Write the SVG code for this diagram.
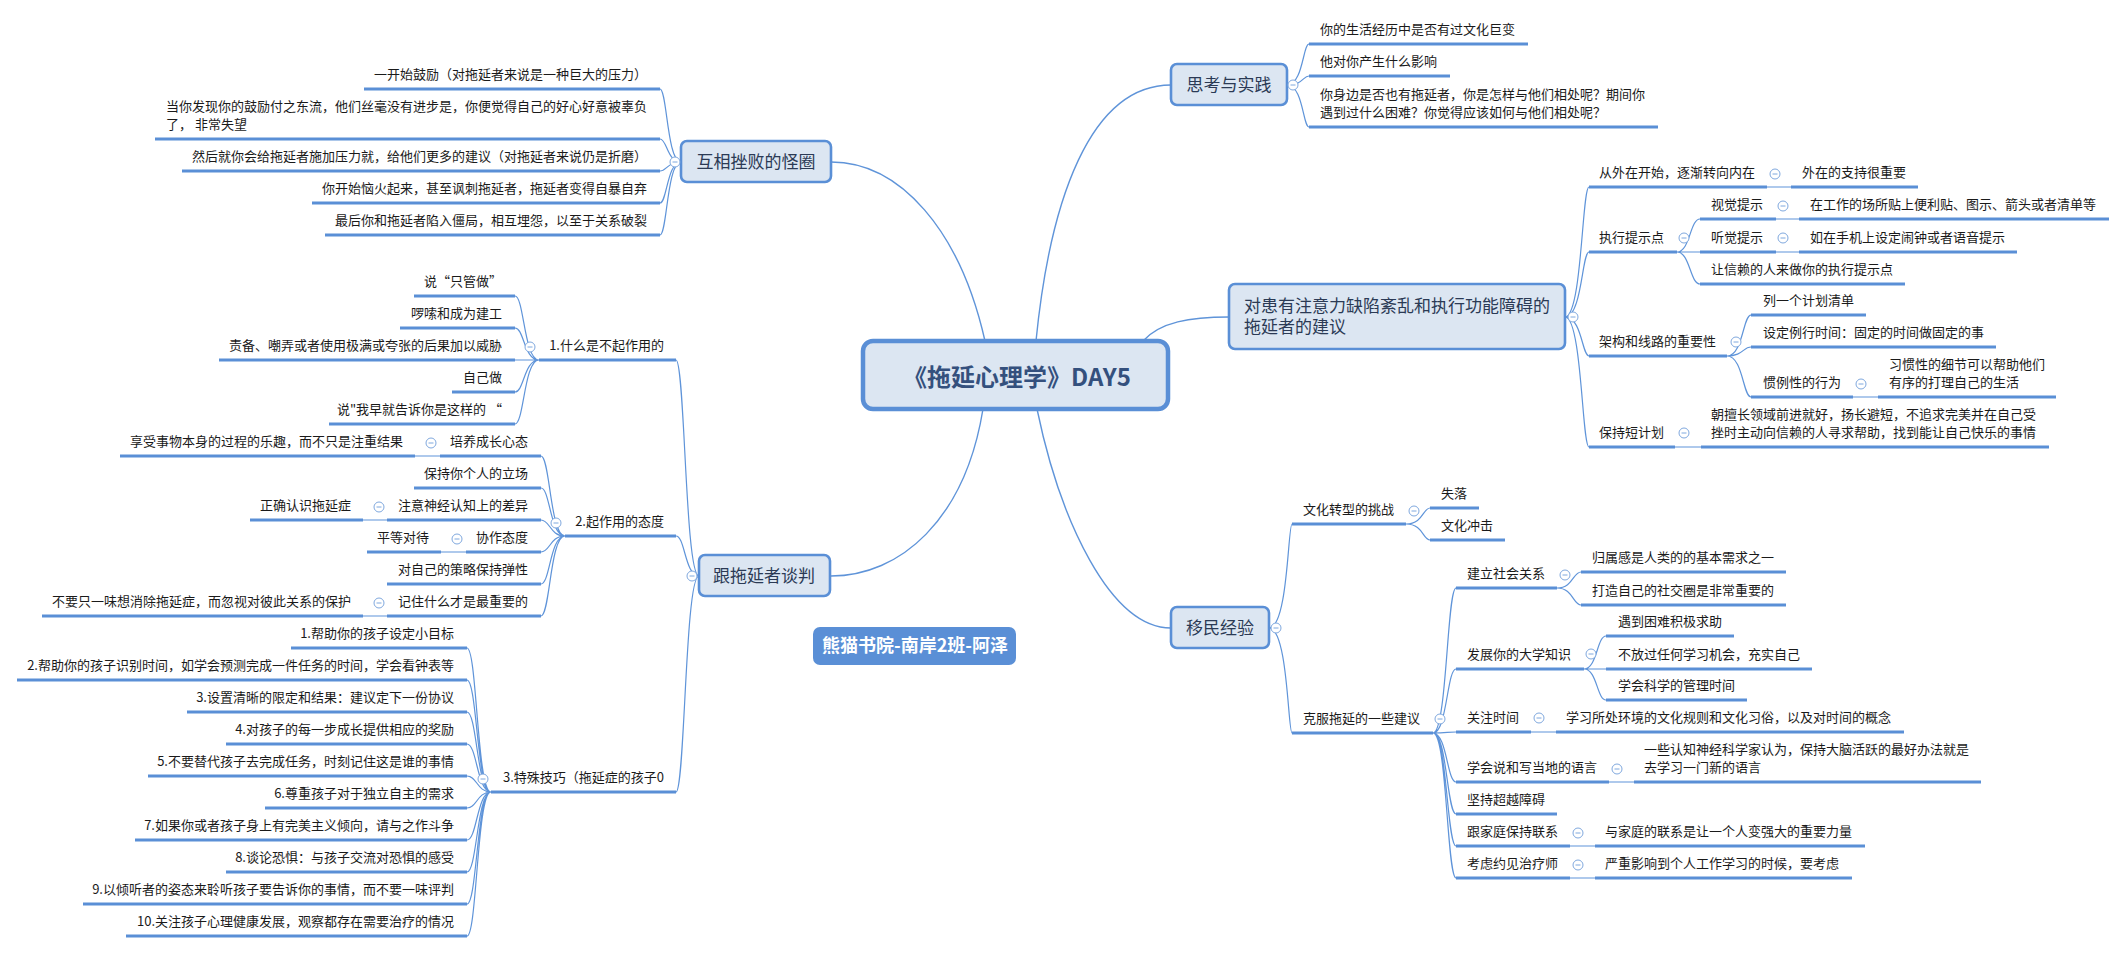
<svg xmlns="http://www.w3.org/2000/svg" xmlns:xlink="http://www.w3.org/1999/xlink" width="2126" height="953" viewBox="0 0 2126 953">
<style>
text{font-family:"Noto Sans CJK SC","Microsoft YaHei",sans-serif;fill:#1a1a1a;font-size:13px}
.l{text-anchor:end}
.c{stroke:#5f94d9;stroke-width:1.2;fill:none}
.mc{stroke:#5f94d9;stroke-width:1.4;fill:none}
.u{stroke:#5a8fd6;stroke-width:3;fill:none}
.box{fill:#dce6f2;stroke:#5a8fd6;stroke-width:2.6}
.mt{font-size:17px;fill:#2b3a55}
.ct{font-size:24px;font-weight:bold;fill:#34507d;text-anchor:middle}
.mid{text-anchor:middle}
</style>
<defs>
<g id="m"><circle r="5" fill="#fff" stroke="#7fa8de" stroke-width="1"/><line x1="-2.5" y1="0" x2="2.5" y2="0" stroke="#7fa8de" stroke-width="1"/></g>
</defs>
<rect width="2126" height="953" fill="#fff"/>
<g id="connectors">
<path class="mc" d="M831,162 C900,162 960,230 985,341"/>
<path class="mc" d="M1171,85 C1090,85 1050,200 1036,341"/>
<path class="mc" d="M1143,341 C1160,322 1190,317 1229,317"/>
<path class="mc" d="M983,409 C965,520 900,576 831,576"/>
<path class="mc" d="M1037,409 C1060,520 1110,628 1171,628"/>
<path class="c" d="M681,162 C667,162 667,89 660,89 M681,162 C667,162 667,139 660,139 M681,162 C667,162 667,171 660,171 M681,162 C667,162 667,203 660,203 M681,162 C667,162 667,235 660,235"/>
<path class="c" d="M699,576 C685,576 685,360 676,360 M699,576 C685,576 685,536 676,536 M699,576 C685,576 685,792 676,792"/>
<path class="c" d="M539,360 C524,360 524,296 515,296 M539,360 C524,360 524,328 515,328 M539,360 L515,360 M539,360 C524,360 524,392 515,392 M539,360 C524,360 524,424 515,424"/>
<path class="c" d="M565,536 C550,536 550,456 541,456 M565,536 C550,536 550,488 541,488 M565,536 C550,536 550,520 541,520 M565,536 C550,536 550,552 541,552 M565,536 C550,536 550,584 541,584 M565,536 C550,536 550,616 541,616"/>
<path class="c" d="M491,792 C477,792 477,648 467,648 M491,792 C477,792 477,680 467,680 M491,792 C477,792 477,712 467,712 M491,792 C477,792 477,744 467,744 M491,792 C477,792 477,776 467,776 M491,792 C477,792 477,808 467,808 M491,792 C477,792 477,840 467,840 M491,792 C477,792 477,872 467,872 M491,792 C477,792 477,904 467,904 M491,792 C477,792 477,936 467,936"/>
<path class="c" d="M440,456 L415,456 M387,520 L363,520 M466,552 L441,552 M387,616 L363,616"/>
<path class="c" d="M1287,85 C1303,85 1303,44 1309,44 M1287,85 C1303,85 1303,76 1309,76 M1287,85 C1303,85 1303,127 1309,127"/>
<path class="c" d="M1565,317 C1582,317 1582,187 1589,187 M1565,317 C1582,317 1582,252 1589,252 M1565,317 C1582,317 1582,356 1589,356 M1565,317 C1582,317 1582,447 1589,447"/>
<path class="c" d="M1677,252 C1690,252 1690,219 1700,219 M1677,252 L1700,252 M1677,252 C1690,252 1690,284 1700,284"/>
<path class="c" d="M1727,356 C1743,356 1743,315 1751,315 M1727,356 C1743,356 1743,347 1751,347 M1727,356 C1743,356 1743,397 1751,397"/>
<path class="c" d="M1767,187 L1791,187 M1776,219 L1799,219 M1776,252 L1799,252 M1853,397 L1878,397 M1675,447 L1701,447"/>
<path class="c" d="M1269,628 C1288,628 1288,524 1292,524 M1269,628 C1288,628 1288,733 1292,733"/>
<path class="c" d="M1406,524 C1423,524 1423,508 1430,508 M1406,524 C1423,524 1423,540 1430,540"/>
<path class="c" d="M1433,733 C1447,733 1447,588 1456,588 M1433,733 C1447,733 1447,669 1456,669 M1433,733 C1447,733 1447,732 1456,732 M1433,733 C1447,733 1447,782 1456,782 M1433,733 C1447,733 1447,814 1456,814 M1433,733 C1447,733 1447,846 1456,846 M1433,733 C1447,733 1447,878 1456,878"/>
<path class="c" d="M1557,588 C1573,588 1573,572 1581,572 M1557,588 C1573,588 1573,605 1581,605"/>
<path class="c" d="M1584,669 C1597,669 1597,636 1606,636 M1584,669 L1606,669 M1584,669 C1597,669 1597,700 1606,700"/>
<path class="c" d="M1531,732 L1556,732 M1609,782 L1634,782 M1570,846 L1595,846 M1570,878 L1595,878"/>
</g>

<g id="central">
<rect x="863" y="341" width="305" height="68" rx="10" fill="#dce6f2" stroke="#5a8fd6" stroke-width="4.5"/>
<text class="ct" x="1017" y="386">《拖延心理学》DAY5</text>
</g>

<g id="n-huxiang">
<rect class="box" x="681" y="141" width="150" height="41" rx="6"/>
<text class="mt mid" x="756" y="168">互相挫败的怪圈</text>
<use xlink:href="#m" x="675" y="162"/>
</g>
<g id="n-huxiang-items">
<text class="l" x="647" y="79">一开始鼓励（对拖延者来说是一种巨大的压力）</text>
<line class="u" x1="364" y1="89" x2="660" y2="89"/>
<text x="166" y="111">当你发现你的鼓励付之东流，他们丝毫没有进步是，你便觉得自己的好心好意被辜负</text>
<text x="166" y="129">了， 非常失望</text>
<line class="u" x1="155" y1="139" x2="660" y2="139"/>
<text class="l" x="647" y="161">然后就你会给拖延者施加压力就，给他们更多的建议（对拖延者来说仍是折磨）</text>
<line class="u" x1="182" y1="171" x2="660" y2="171"/>
<text class="l" x="647" y="193">你开始恼火起来，甚至讽刺拖延者，拖延者变得自暴自弃</text>
<line class="u" x1="312" y1="203" x2="660" y2="203"/>
<text class="l" x="647" y="225">最后你和拖延者陷入僵局，相互埋怨，以至于关系破裂</text>
<line class="u" x1="325" y1="235" x2="660" y2="235"/>
</g>

<g id="n-tanpan">
<rect class="box" x="699" y="555" width="131" height="41" rx="6"/>
<text class="mt mid" x="764" y="582">跟拖延者谈判</text>
<use xlink:href="#m" x="692" y="576"/>
</g>
<g id="n-tanpan-1">
<text class="l" x="664" y="350">1.什么是不起作用的</text>
<line class="u" x1="539" y1="360" x2="676" y2="360"/>
<use xlink:href="#m" x="530" y="347"/>
<text class="l" x="502" y="286">说“只管做”</text>
<line class="u" x1="414" y1="296" x2="515" y2="296"/>
<text class="l" x="502" y="318">啰嗦和成为建工</text>
<line class="u" x1="400" y1="328" x2="515" y2="328"/>
<text class="l" x="502" y="350">责备、嘲弄或者使用极满或夸张的后果加以威胁</text>
<line class="u" x1="219" y1="360" x2="515" y2="360"/>
<text class="l" x="502" y="382">自己做</text>
<line class="u" x1="452" y1="392" x2="515" y2="392"/>
<text class="l" x="502" y="414">说"我早就告诉你是这样的 “</text>
<line class="u" x1="329" y1="424" x2="515" y2="424"/>
</g>
<g id="n-tanpan-2">
<text class="l" x="664" y="526">2.起作用的态度</text>
<line class="u" x1="565" y1="536" x2="676" y2="536"/>
<use xlink:href="#m" x="556" y="523"/>
<text class="l" x="528" y="446">培养成长心态</text>
<line class="u" x1="440" y1="456" x2="541" y2="456"/>
<use xlink:href="#m" x="431" y="443"/>
<text class="l" x="403" y="446">享受事物本身的过程的乐趣，而不只是注重结果</text>
<line class="u" x1="120" y1="456" x2="415" y2="456"/>
<text class="l" x="528" y="478">保持你个人的立场</text>
<line class="u" x1="414" y1="488" x2="541" y2="488"/>
<text class="l" x="528" y="510">注意神经认知上的差异</text>
<line class="u" x1="387" y1="520" x2="541" y2="520"/>
<use xlink:href="#m" x="379" y="507"/>
<text class="l" x="351" y="510">正确认识拖延症</text>
<line class="u" x1="250" y1="520" x2="363" y2="520"/>
<text class="l" x="528" y="542">协作态度</text>
<line class="u" x1="466" y1="552" x2="541" y2="552"/>
<use xlink:href="#m" x="457" y="539"/>
<text class="l" x="429" y="542">平等对待</text>
<line class="u" x1="367" y1="552" x2="441" y2="552"/>
<text class="l" x="528" y="574">对自己的策略保持弹性</text>
<line class="u" x1="387" y1="584" x2="541" y2="584"/>
<text class="l" x="528" y="606">记住什么才是最重要的</text>
<line class="u" x1="387" y1="616" x2="541" y2="616"/>
<use xlink:href="#m" x="379" y="603"/>
<text class="l" x="351" y="606">不要只一味想消除拖延症，而忽视对彼此关系的保护</text>
<line class="u" x1="42" y1="616" x2="363" y2="616"/>
</g>
<g id="n-tanpan-3">
<text class="l" x="664" y="782">3.特殊技巧（拖延症的孩子0</text>
<line class="u" x1="491" y1="792" x2="676" y2="792"/>
<use xlink:href="#m" x="483" y="779"/>
<text class="l" x="454" y="638">1.帮助你的孩子设定小目标</text>
<line class="u" x1="291" y1="648" x2="467" y2="648"/>
<text class="l" x="454" y="670">2.帮助你的孩子识别时间，如学会预测完成一件任务的时间，学会看钟表等</text>
<line class="u" x1="17" y1="680" x2="467" y2="680"/>
<text class="l" x="454" y="702">3.设置清晰的限定和结果：建议定下一份协议</text>
<line class="u" x1="187" y1="712" x2="467" y2="712"/>
<text class="l" x="454" y="734">4.对孩子的每一步成长提供相应的奖励</text>
<line class="u" x1="226" y1="744" x2="467" y2="744"/>
<text class="l" x="454" y="766">5.不要替代孩子去完成任务，时刻记住这是谁的事情</text>
<line class="u" x1="148" y1="776" x2="467" y2="776"/>
<text class="l" x="454" y="798">6.尊重孩子对于独立自主的需求</text>
<line class="u" x1="265" y1="808" x2="467" y2="808"/>
<text class="l" x="454" y="830">7.如果你或者孩子身上有完美主义倾向，请与之作斗争</text>
<line class="u" x1="135" y1="840" x2="467" y2="840"/>
<text class="l" x="454" y="862">8.谈论恐惧：与孩子交流对恐惧的感受</text>
<line class="u" x1="226" y1="872" x2="467" y2="872"/>
<text class="l" x="454" y="894">9.以倾听者的姿态来聆听孩子要告诉你的事情，而不要一味评判</text>
<line class="u" x1="83" y1="904" x2="467" y2="904"/>
<text class="l" x="454" y="926">10.关注孩子心理健康发展，观察都存在需要治疗的情况</text>
<line class="u" x1="126" y1="936" x2="467" y2="936"/>
</g>

<g id="n-sikao">
<rect class="box" x="1171" y="64" width="116" height="41" rx="6"/>
<text class="mt mid" x="1229" y="91">思考与实践</text>
<use xlink:href="#m" x="1293" y="85"/>
</g>
<g id="n-sikao-items">
<text x="1320" y="34">你的生活经历中是否有过文化巨变</text>
<line class="u" x1="1309" y1="44" x2="1528" y2="44"/>
<text x="1320" y="66">他对你产生什么影响</text>
<line class="u" x1="1309" y1="76" x2="1450" y2="76"/>
<text x="1320" y="99">你身边是否也有拖延者，你是怎样与他们相处呢？期间你</text>
<text x="1320" y="117">遇到过什么困难？你觉得应该如何与他们相处呢？</text>
<line class="u" x1="1309" y1="127" x2="1658" y2="127"/>
</g>

<g id="n-adhd">
<rect class="box" x="1229" y="284" width="336" height="65" rx="6"/>
<text class="mt" x="1244" y="312">对患有注意力缺陷紊乱和执行功能障碍的</text>
<text class="mt" x="1244" y="333">拖延者的建议</text>
<use xlink:href="#m" x="1573" y="317"/>
</g>
<g id="n-adhd-items">
<text x="1599" y="177">从外在开始，逐渐转向内在</text>
<line class="u" x1="1589" y1="187" x2="1767" y2="187"/>
<use xlink:href="#m" x="1775" y="174"/>
<text x="1802" y="177">外在的支持很重要</text>
<line class="u" x1="1791" y1="187" x2="1918" y2="187"/>
<text x="1599" y="242">执行提示点</text>
<line class="u" x1="1589" y1="252" x2="1677" y2="252"/>
<use xlink:href="#m" x="1684" y="238"/>
<text x="1711" y="209">视觉提示</text>
<line class="u" x1="1700" y1="219" x2="1776" y2="219"/>
<use xlink:href="#m" x="1783" y="206"/>
<text x="1810" y="209">在工作的场所贴上便利贴、图示、箭头或者清单等</text>
<line class="u" x1="1799" y1="219" x2="2109" y2="219"/>
<text x="1711" y="242">听觉提示</text>
<line class="u" x1="1700" y1="252" x2="1776" y2="252"/>
<use xlink:href="#m" x="1783" y="238"/>
<text x="1810" y="242">如在手机上设定闹钟或者语音提示</text>
<line class="u" x1="1799" y1="252" x2="2017" y2="252"/>
<text x="1711" y="274">让信赖的人来做你的执行提示点</text>
<line class="u" x1="1700" y1="284" x2="1905" y2="284"/>
<text x="1599" y="346">架构和线路的重要性</text>
<line class="u" x1="1589" y1="356" x2="1727" y2="356"/>
<use xlink:href="#m" x="1736" y="342"/>
<text x="1763" y="305">列一个计划清单</text>
<line class="u" x1="1751" y1="315" x2="1866" y2="315"/>
<text x="1763" y="337">设定例行时间：固定的时间做固定的事</text>
<line class="u" x1="1751" y1="347" x2="1996" y2="347"/>
<text x="1763" y="387">惯例性的行为</text>
<line class="u" x1="1751" y1="397" x2="1853" y2="397"/>
<use xlink:href="#m" x="1861" y="384"/>
<text x="1889" y="369">习惯性的细节可以帮助他们</text>
<text x="1889" y="387">有序的打理自己的生活</text>
<line class="u" x1="1878" y1="397" x2="2056" y2="397"/>
<text x="1599" y="437">保持短计划</text>
<line class="u" x1="1589" y1="447" x2="1675" y2="447"/>
<use xlink:href="#m" x="1684" y="433"/>
<text x="1711" y="419">朝擅长领域前进就好，扬长避短，不追求完美并在自己受</text>
<text x="1711" y="437">挫时主动向信赖的人寻求帮助，找到能让自己快乐的事情</text>
<line class="u" x1="1701" y1="447" x2="2049" y2="447"/>
</g>

<g id="n-yimin">
<rect class="box" x="1171" y="607" width="98" height="41" rx="6"/>
<text class="mt mid" x="1220" y="634">移民经验</text>
<use xlink:href="#m" x="1276" y="628"/>
</g>
<g id="n-yimin-items">
<text x="1303" y="514">文化转型的挑战</text>
<line class="u" x1="1292" y1="524" x2="1406" y2="524"/>
<use xlink:href="#m" x="1414" y="511"/>
<text x="1441" y="498">失落</text>
<line class="u" x1="1430" y1="508" x2="1479" y2="508"/>
<text x="1441" y="530">文化冲击</text>
<line class="u" x1="1430" y1="540" x2="1505" y2="540"/>
<text x="1303" y="723">克服拖延的一些建议</text>
<line class="u" x1="1292" y1="733" x2="1433" y2="733"/>
<use xlink:href="#m" x="1440" y="719"/>
<text x="1467" y="578">建立社会关系</text>
<line class="u" x1="1456" y1="588" x2="1557" y2="588"/>
<use xlink:href="#m" x="1565" y="575"/>
<text x="1592" y="562">归属感是人类的的基本需求之一</text>
<line class="u" x1="1581" y1="572" x2="1786" y2="572"/>
<text x="1592" y="595">打造自己的社交圈是非常重要的</text>
<line class="u" x1="1581" y1="605" x2="1786" y2="605"/>
<text x="1467" y="659">发展你的大学知识</text>
<line class="u" x1="1456" y1="669" x2="1584" y2="669"/>
<use xlink:href="#m" x="1591" y="654"/>
<text x="1618" y="626">遇到困难积极求助</text>
<line class="u" x1="1606" y1="636" x2="1734" y2="636"/>
<text x="1618" y="659">不放过任何学习机会，充实自己</text>
<line class="u" x1="1606" y1="669" x2="1812" y2="669"/>
<text x="1618" y="690">学会科学的管理时间</text>
<line class="u" x1="1606" y1="700" x2="1747" y2="700"/>
<text x="1467" y="722">关注时间</text>
<line class="u" x1="1456" y1="732" x2="1531" y2="732"/>
<use xlink:href="#m" x="1539" y="718"/>
<text x="1566" y="722">学习所处环境的文化规则和文化习俗，以及对时间的概念</text>
<line class="u" x1="1556" y1="732" x2="1904" y2="732"/>
<text x="1467" y="772">学会说和写当地的语言</text>
<line class="u" x1="1456" y1="782" x2="1609" y2="782"/>
<use xlink:href="#m" x="1617" y="769"/>
<text x="1644" y="754">一些认知神经科学家认为，保持大脑活跃的最好办法就是</text>
<text x="1644" y="772">去学习一门新的语言</text>
<line class="u" x1="1634" y1="782" x2="1981" y2="782"/>
<text x="1467" y="804">坚持超越障碍</text>
<line class="u" x1="1456" y1="814" x2="1557" y2="814"/>
<text x="1467" y="836">跟家庭保持联系</text>
<line class="u" x1="1456" y1="846" x2="1570" y2="846"/>
<use xlink:href="#m" x="1578" y="833"/>
<text x="1605" y="836">与家庭的联系是让一个人变强大的重要力量</text>
<line class="u" x1="1595" y1="846" x2="1865" y2="846"/>
<text x="1467" y="868">考虑约见治疗师</text>
<line class="u" x1="1456" y1="878" x2="1570" y2="878"/>
<use xlink:href="#m" x="1578" y="865"/>
<text x="1605" y="868">严重影响到个人工作学习的时候，要考虑</text>
<line class="u" x1="1595" y1="878" x2="1852" y2="878"/>
</g>

<g id="n-author">
<rect x="813" y="627" width="203" height="38" rx="7" fill="#5a8fd6"/>
<text class="mid" x="915" y="652" style="font-size:18px;font-weight:bold;fill:#fff">熊猫书院-南岸2班-阿泽</text>
</g>
</svg>
